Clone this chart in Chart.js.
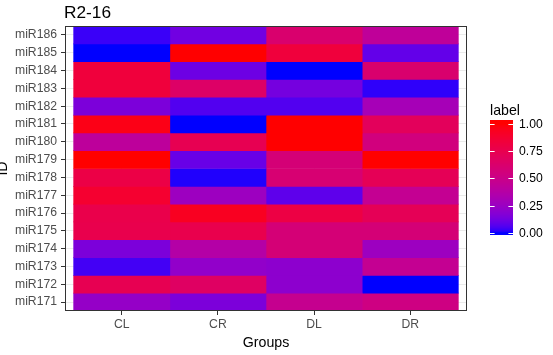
<!DOCTYPE html>
<html>
<head>
<meta charset="utf-8">
<script src="https://cdn.jsdelivr.net/npm/chart.js@4.4.1/dist/chart.umd.min.js"></script>
<style>
  html, body { margin: 0; padding: 0; background: #fff; overflow: hidden; }
  #wrap { width: 553px; height: 355px; }
</style>
</head>
<body>
<div id="wrap"><canvas id="heatmap" width="553" height="355"></canvas></div>
<script>
// Heatmap data (rows bottom -> top)
const groups = ['CL', 'CR', 'DL', 'DR'];
const ids = ['miR171', 'miR172', 'miR173', 'miR174', 'miR175', 'miR176', 'miR177', 'miR178',
             'miR179', 'miR180', 'miR181', 'miR182', 'miR183', 'miR184', 'miR185', 'miR186'];
const clValues = [0.23, 0.74, 0.04, 0.15, 0.76, 0.77, 0.88, 0.79, 1.00, 0.42, 0.96, 0.15, 0.83, 0.83, 0.00, 0.03];
const crValues = [0.15, 0.67, 0.22, 0.37, 0.76, 0.93, 0.26, 0.01, 0.10, 0.74, 0.00, 0.06, 0.65, 0.11, 1.00, 0.12];
const dlValues = [0.47, 0.20, 0.20, 0.58, 0.58, 0.80, 0.08, 0.60, 0.58, 1.00, 1.00, 0.06, 0.13, 0.00, 0.83, 0.62];
const drValues = [0.53, 0.00, 0.46, 0.26, 0.58, 0.72, 0.46, 0.72, 1.00, 0.55, 0.70, 0.30, 0.02, 0.62, 0.09, 0.43];
const legendBreaks = [0, 0.25, 0.5, 0.75, 1];

const groupValues = [clValues, crValues, dlValues, drValues];
const FONT = '"Liberation Sans", Arial, sans-serif';

// blue -> red gradient, interpolated in Lab space
function toLab(rgb) {
    const lin = rgb.map(c => { c /= 255; return c <= 0.04045 ? c / 12.92 : Math.pow((c + 0.055) / 1.055, 2.4); });
    const X = (0.4124 * lin[0] + 0.3576 * lin[1] + 0.1805 * lin[2]) / 0.95047;
    const Y = (0.2126 * lin[0] + 0.7152 * lin[1] + 0.0722 * lin[2]);
    const Z = (0.0193 * lin[0] + 0.1192 * lin[1] + 0.9505 * lin[2]) / 1.08883;
    const f = t => t > 0.008856 ? Math.cbrt(t) : 7.787 * t + 16 / 116;
    return [116 * f(Y) - 16, 500 * (f(X) - f(Y)), 200 * (f(Y) - f(Z))];
}
function fromLab(lab) {
    const fy = (lab[0] + 16) / 116, fx = fy + lab[1] / 500, fz = fy - lab[2] / 200;
    const inv = t => t * t * t > 0.008856 ? t * t * t : (t - 16 / 116) / 7.787;
    const X = 0.95047 * inv(fx), Y = inv(fy), Z = 1.08883 * inv(fz);
    const lin = [
        3.2406 * X - 1.5372 * Y - 0.4986 * Z,
        -0.9689 * X + 1.8758 * Y + 0.0415 * Z,
        0.0557 * X - 0.2040 * Y + 1.0570 * Z
    ];
    const rgb = lin.map(c => {
        c = c <= 0.0031308 ? 12.92 * c : 1.055 * Math.pow(c, 1 / 2.4) - 0.055;
        return Math.round(Math.min(1, Math.max(0, c)) * 255);
    });
    return 'rgb(' + rgb.join(',') + ')';
}
const lowLab = toLab([0, 0, 255]);
const highLab = toLab([255, 0, 0]);
function fillColor(v) {
    v = Math.min(1, Math.max(0, v));
    return fromLab(lowLab.map((l, i) => l + (highLab[i] - l) * v));
}

// Title, border, y-axis title and colour bar legend
const extrasPlugin = {
    id: 'extras',
    afterDraw(chart) {
        const ctx = chart.ctx;
        const area = chart.chartArea;
        ctx.save();

        ctx.strokeStyle = '#333333';
        ctx.lineWidth = 1;
        ctx.strokeRect(area.left + 0.5, area.top + 0.5, area.right - area.left - 1, area.bottom - area.top - 1);

        ctx.fillStyle = '#000';
        ctx.font = '17.3px ' + FONT;
        ctx.textAlign = 'left';
        ctx.textBaseline = 'alphabetic';
        ctx.fillText('R2-16', 64, 18);

        ctx.save();
        ctx.translate(7, (area.top + area.bottom) / 2);
        ctx.rotate(-Math.PI / 2);
        ctx.font = '14.2px ' + FONT;
        ctx.textAlign = 'center';
        ctx.fillText('ID', 0, 0);
        ctx.restore();

        // colour bar
        const barX = 490, barW = 23, barTop = 120, barBottom = 235;
        const y1 = 124, y0 = 232.7;
        for (let y = barTop; y < barBottom; y++) {
            ctx.fillStyle = fillColor((y0 - (y + 0.5)) / (y0 - y1));
            ctx.fillRect(barX, y, barW, 1);
        }
        ctx.font = '14.2px ' + FONT;
        ctx.fillStyle = '#000';
        ctx.fillText('label', barX, 115);

        ctx.font = '12.2px ' + FONT;
        ctx.textBaseline = 'middle';
        ctx.strokeStyle = '#fff';
        legendBreaks.forEach(b => {
            const y = Math.round(y0 - b * (y0 - y1)) + 0.5;
            ctx.beginPath();
            ctx.moveTo(barX, y); ctx.lineTo(barX + 4.6, y);
            ctx.moveTo(barX + barW - 4.6, y); ctx.lineTo(barX + barW, y);
            ctx.stroke();
            ctx.fillText(b.toFixed(2), 519, y + 0.5);
        });
        ctx.restore();
    }
};

const datasets = groups.map((g, gi) => ({
    label: g,
    data: ids.map((id, i) => ({ x: 1, y: i })),
    backgroundColor: groupValues[gi].map(fillColor),
    borderWidth: 0,
    barPercentage: 1,
    categoryPercentage: 1
}));

new Chart(document.getElementById('heatmap'), {
    type: 'bar',
    data: { datasets: datasets },
    plugins: [extrasPlugin],
    options: {
        indexAxis: 'y',
        responsive: false,
        animation: false,
        layout: { padding: { left: 0, top: 26, right: 86, bottom: 0 } },
        plugins: {
            legend: { display: false },
            tooltip: { enabled: false }
        },
        scales: {
            x: {
                type: 'linear',
                stacked: true,
                offset: false,
                min: -0.09,
                max: 4.09,
                border: { display: false },
                grid: { offset: false, color: '#EBEBEB', tickColor: '#333333', tickLength: 4 },
                afterBuildTicks: s => { s.ticks = groups.map((g, i) => ({ value: i + 0.5 })); },
                afterFit: s => { s.height = 44; s.paddingLeft = 0; s.paddingRight = 0; },
                ticks: {
                    autoSkip: false,
                    maxRotation: 0,
                    padding: 2,
                    color: '#4D4D4D',
                    font: { family: FONT, size: 12.2 },
                    callback: v => groups[Math.floor(v)]
                },
                title: {
                    display: true,
                    text: 'Groups',
                    color: '#000',
                    font: { family: FONT, size: 14.2 },
                    padding: { top: 0, bottom: 3 }
                }
            },
            y: {
                type: 'linear',
                stacked: true,
                offset: false,
                min: -0.5,
                max: 15.5,
                border: { display: false },
                grid: { offset: false, color: '#EBEBEB', tickColor: '#333333', tickLength: 4 },
                afterBuildTicks: s => { s.ticks = ids.map((id, i) => ({ value: i })); },
                afterFit: s => { s.width = 65; s.paddingTop = 0; s.paddingBottom = 0; },
                ticks: {
                    autoSkip: false,
                    padding: 4,
                    color: '#4D4D4D',
                    font: { family: FONT, size: 12.2 },
                    callback: v => ids[v]
                }
            }
        }
    }
});
</script>
</body>
</html>
